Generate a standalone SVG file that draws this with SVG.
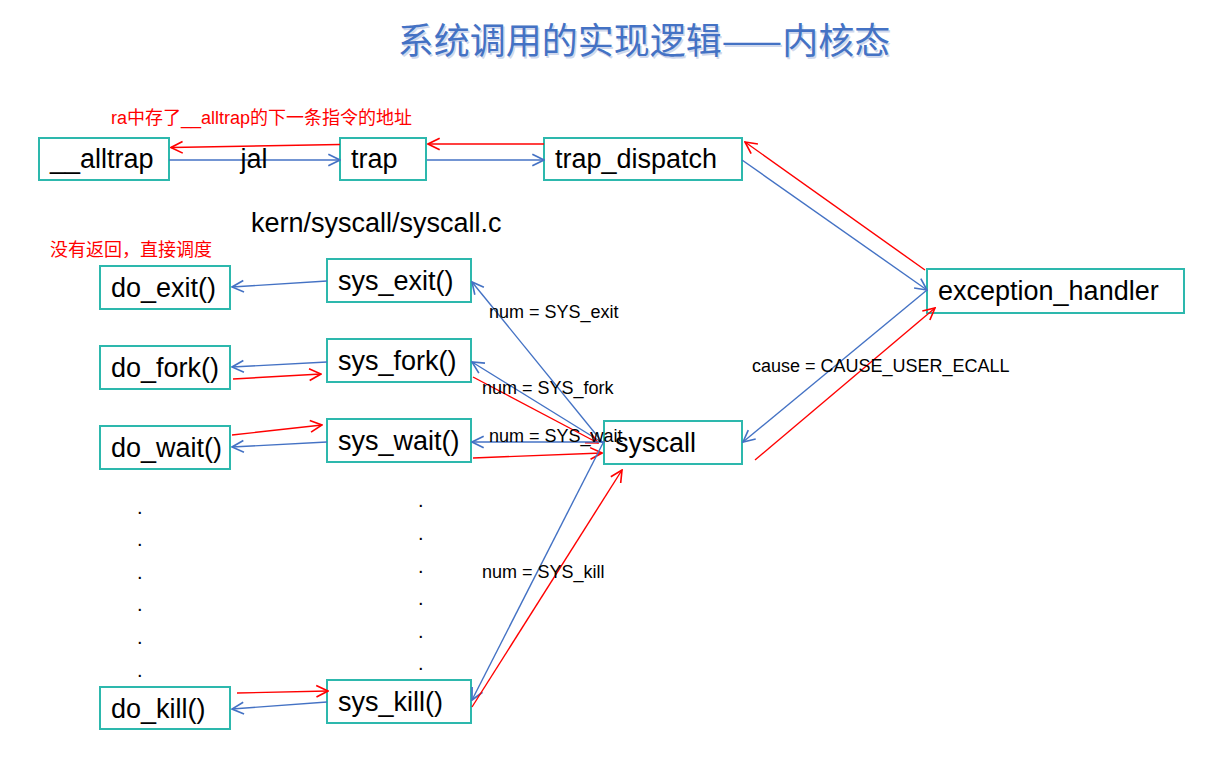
<svg xmlns="http://www.w3.org/2000/svg" width="1206" height="759" viewBox="0 0 1206 759">
<style>
.box{fill:#fff;stroke:#2DB8AD;stroke-width:2}
.lbl{font-family:"Liberation Sans",Arial,sans-serif;font-size:27px;fill:#000}
.sm{font-family:"Liberation Sans",Arial,sans-serif;font-size:18px;fill:#000}
.red{font-family:"Liberation Sans","Noto Sans CJK SC",sans-serif;font-size:18px;fill:#FF0000}
.b{stroke:#4472C4;stroke-width:1.4;fill:none;marker-end:url(#ab)}
.r{stroke:#FF0000;stroke-width:1.4;fill:none;marker-end:url(#ar)}
.dot{font-family:"Liberation Sans",Arial,sans-serif;font-size:20px;fill:#000}
</style>
<defs>
<marker id="ab" markerUnits="userSpaceOnUse" markerWidth="14" markerHeight="14" viewBox="0 0 12 12" refX="11" refY="6" orient="auto"><path d="M1,1 L11,6 L1,11" fill="none" stroke="#4472C4" stroke-width="1.4"/></marker>
<marker id="ar" markerUnits="userSpaceOnUse" markerWidth="14" markerHeight="14" viewBox="0 0 12 12" refX="11" refY="6" orient="auto"><path d="M1,1 L11,6 L1,11" fill="none" stroke="#FF0000" stroke-width="1.4"/></marker>
</defs>
<rect width="1206" height="759" fill="#fff"/>
<text x="644" y="54" text-anchor="middle" font-family="Noto Sans CJK SC,sans-serif" font-size="36" fill="#D0D8EC" transform="translate(1.5,1.5)">系统调用的实现逻辑——内核态</text>
<text x="644" y="54" text-anchor="middle" font-family="Noto Sans CJK SC,sans-serif" font-size="36" fill="#4472C4">系统调用的实现逻辑——内核态</text>
<g id="alltrap"><rect class="box" x="39" y="138" width="130" height="42"/><text class="lbl" x="50" y="168">__alltrap</text></g>
<g id="trap"><rect class="box" x="340" y="138" width="86" height="42"/><text class="lbl" x="351" y="168">trap</text></g>
<g id="trap_dispatch"><rect class="box" x="544" y="138" width="198" height="42"/><text class="lbl" x="555" y="168">trap_dispatch</text></g>
<g id="exception_handler"><rect class="box" x="927" y="269" width="257" height="44"/><text class="lbl" x="938" y="300">exception_handler</text></g>
<g id="syscall"><rect class="box" x="604" y="421" width="138" height="43"/><text class="lbl" x="615" y="452">syscall</text></g>
<g id="sys_exit"><rect class="box" x="327" y="259" width="144" height="43"/><text class="lbl" x="338" y="290">sys_exit()</text></g>
<g id="do_exit"><rect class="box" x="100" y="266" width="130" height="43"/><text class="lbl" x="111" y="297">do_exit()</text></g>
<g id="sys_fork"><rect class="box" x="327" y="339" width="144" height="43"/><text class="lbl" x="338" y="370">sys_fork()</text></g>
<g id="do_fork"><rect class="box" x="100" y="346" width="130" height="43"/><text class="lbl" x="111" y="377">do_fork()</text></g>
<g id="sys_wait"><rect class="box" x="327" y="419" width="144" height="43"/><text class="lbl" x="338" y="450">sys_wait()</text></g>
<g id="do_wait"><rect class="box" x="100" y="426" width="130" height="43"/><text class="lbl" x="111" y="457">do_wait()</text></g>
<g id="sys_kill"><rect class="box" x="327" y="680" width="144" height="43"/><text class="lbl" x="338" y="711">sys_kill()</text></g>
<g id="do_kill"><rect class="box" x="100" y="687" width="130" height="42"/><text class="lbl" x="111" y="718">do_kill()</text></g>
<g id="connectors">
<line class="b" x1="169" y1="160" x2="340" y2="160"/>
<line class="r" x1="340" y1="144.5" x2="171" y2="147.5"/>
<line class="b" x1="427" y1="160" x2="544" y2="160"/>
<line class="r" x1="544" y1="144" x2="428" y2="144"/>
<line class="b" x1="742" y1="160" x2="927" y2="290"/>
<line class="r" x1="925" y1="270" x2="745" y2="142"/>
<line class="b" x1="927" y1="290" x2="743" y2="442"/>
<line class="r" x1="755" y1="460" x2="935" y2="308"/>
<line class="b" x1="603" y1="443" x2="472" y2="282"/>
<line class="b" x1="603" y1="443" x2="472" y2="362"/>
<line class="r" x1="473" y1="377" x2="598" y2="443"/>
<line class="b" x1="605" y1="442" x2="472" y2="442"/>
<line class="r" x1="473" y1="458" x2="602" y2="453"/>
<line class="b" x1="603" y1="443" x2="472" y2="700"/>
<line class="r" x1="472" y1="707" x2="622" y2="470"/>
<line class="b" x1="327" y1="281" x2="232" y2="287"/>
<line class="b" x1="327" y1="362" x2="232" y2="367"/>
<line class="r" x1="233" y1="379" x2="321" y2="374"/>
<line class="r" x1="232" y1="435" x2="322" y2="425"/>
<line class="b" x1="327" y1="442" x2="232" y2="447"/>
<line class="r" x1="237" y1="693" x2="328" y2="691"/>
<line class="b" x1="327" y1="702" x2="232" y2="709"/>
</g>
<g id="labels">
<text class="red" x="111" y="124">ra中存了__alltrap的下一条指令的地址</text>
<text class="lbl" x="254" y="168" text-anchor="middle">jal</text>
<text class="lbl" x="251" y="232">kern/syscall/syscall.c</text>
<text class="red" x="50" y="256">没有返回，直接调度</text>
<text class="sm" x="489" y="318">num = SYS_exit</text>
<text class="sm" x="482" y="394">num = SYS_fork</text>
<text class="sm" x="489" y="442">num = SYS_wait</text>
<text class="sm" x="482" y="578">num = SYS_kill</text>
<text class="sm" x="752" y="372">cause = CAUSE_USER_ECALL</text>
</g>
<g id="dots" class="dot">
<text x="137" y="514">.</text><text x="137" y="546">.</text><text x="137" y="579">.</text><text x="137" y="611">.</text><text x="137" y="644">.</text><text x="137" y="677">.</text>
<text x="418" y="507">.</text><text x="418" y="540">.</text><text x="418" y="573">.</text><text x="418" y="605">.</text><text x="418" y="638">.</text><text x="418" y="670">.</text>
</g>
</svg>
